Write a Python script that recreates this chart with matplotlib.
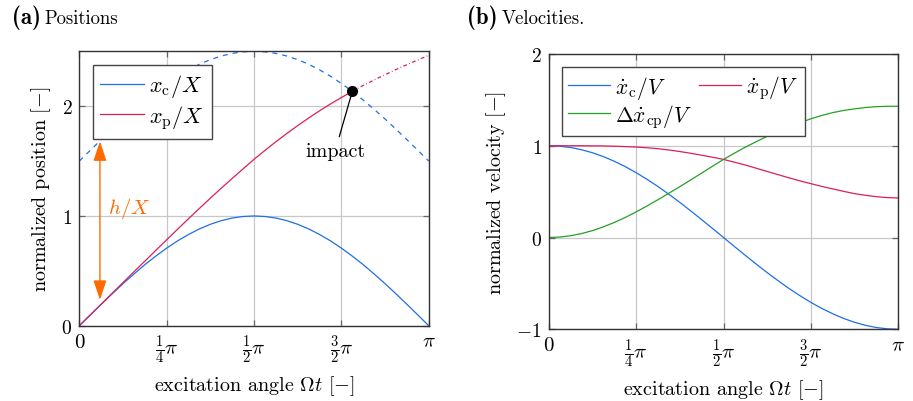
import numpy as np
import matplotlib
matplotlib.use('Agg')
import matplotlib.pyplot as plt

plt.rcParams['font.family'] = ['cmr10', 'DejaVu Serif']
plt.rcParams['mathtext.fontset'] = 'cm'
plt.rcParams['axes.formatter.use_mathtext'] = True

# excitation angle in units of pi (sample points where values were read)
t_pi = [k / 32 for k in range(33)]

# (a) positions
x_c = [0, 0.098, 0.195, 0.290, 0.383, 0.471, 0.556, 0.634, 0.707, 0.773, 0.831,
       0.882, 0.924, 0.957, 0.981, 0.995, 1.0, 0.995, 0.981, 0.957, 0.924, 0.882,
       0.831, 0.773, 0.707, 0.634, 0.556, 0.471, 0.383, 0.290, 0.195, 0.098, 0.0]
x_c_upper = [1.5, 1.598, 1.695, 1.790, 1.883, 1.971, 2.056, 2.134, 2.207, 2.273,
             2.331, 2.382, 2.424, 2.457, 2.481, 2.495, 2.5, 2.495, 2.481, 2.457,
             2.424, 2.382, 2.331, 2.273, 2.207, 2.134, 2.056, 1.971, 1.883, 1.790,
             1.695, 1.598, 1.5]
x_p = [0, 0.098, 0.196, 0.295, 0.393, 0.491, 0.588, 0.686, 0.783, 0.879, 0.975,
       1.069, 1.162, 1.253, 1.342, 1.429, 1.516, 1.597, 1.676, 1.751, 1.823, 1.892,
       1.958, 2.020, 2.079, 2.135, 2.189, 2.239, 2.287, 2.334, 2.378, 2.421, 2.464]
i_impact = 25  # sample index of the impact point

# (b) velocities
v_c = [1, 0.995, 0.981, 0.957, 0.924, 0.882, 0.831, 0.773, 0.707, 0.634, 0.556,
       0.471, 0.383, 0.290, 0.195, 0.098, 0, -0.098, -0.195, -0.290, -0.383, -0.471,
       -0.556, -0.634, -0.707, -0.773, -0.831, -0.882, -0.924, -0.957, -0.981, -0.995, -1]
v_p = [1.0, 1.0, 1.0, 1.0, 0.999, 0.998, 0.995, 0.991, 0.986, 0.978, 0.968, 0.954,
       0.937, 0.918, 0.897, 0.875, 0.851, 0.821, 0.79, 0.755, 0.72, 0.685, 0.65,
       0.617, 0.587, 0.557, 0.53, 0.503, 0.478, 0.46, 0.445, 0.435, 0.431]
dv_cp = [0, 0.005, 0.019, 0.043, 0.075, 0.116, 0.164, 0.218, 0.279, 0.344, 0.412,
         0.483, 0.554, 0.628, 0.702, 0.777, 0.851, 0.919, 0.985, 1.045, 1.103, 1.156,
         1.206, 1.251, 1.294, 1.330, 1.361, 1.385, 1.402, 1.417, 1.426, 1.430, 1.431]

blue = '#1f6fe5'
red = '#dc1f55'
green = '#25a025'
orange = '#ff6a00'

t = np.array(t_pi) * np.pi

fig = plt.figure(figsize=(9.13, 4.02), dpi=100)
ax1 = fig.add_axes([0.0869, 0.1873, 0.3827, 0.6826])
ax2 = fig.add_axes([0.601, 0.1784, 0.3829, 0.6848])

xticks = [0, np.pi / 4, np.pi / 2, 3 * np.pi / 4, np.pi]
xticklabels = [r'$0$', r'$\frac{1}{4}\pi$', r'$\frac{1}{2}\pi$', r'$\frac{3}{2}\pi$', r'$\pi$']
xlabel = r'excitation angle $\Omega t$ [$\mathrm{-}$]'

for ax in (ax1, ax2):
    ax.set_xlim(0, np.pi)
    ax.set_xticks(xticks)
    ax.set_xticklabels(xticklabels)
    ax.grid(True, color='#c8c8c8', linewidth=0.9)
    ax.set_axisbelow(True)
    ax.tick_params(direction='in', top=True, right=True, length=4, width=0.9,
                   color='#666666', labelsize=14, pad=5)
    ax.tick_params(axis='x', labelsize=15)
    for s in ax.spines.values():
        s.set_color('#333333')
        s.set_linewidth(1.0)
    ax.set_xlabel(xlabel, fontsize=14.5, labelpad=6)

# ---- (a) Positions
ax1.plot(t, x_c, color=blue, lw=0.9, label=r'$x_\mathrm{c}/X$')
ax1.plot(t, x_c_upper, color=blue, lw=0.9, dashes=(4, 4))
ax1.plot(t[:i_impact + 1], x_p[:i_impact + 1], color=red, lw=0.9, label=r'$x_\mathrm{p}/X$')
ax1.plot(t[i_impact:], x_p[i_impact:], color=red, lw=0.9, dashes=(3, 2, 0.6, 2))
ax1.plot(t[i_impact], x_p[i_impact], 'o', color='black', ms=7, zorder=5)
ax1.annotate('impact', xy=(t[i_impact], x_p[i_impact]), xytext=(0.732 * np.pi, 1.59),
             ha='center', va='center', fontsize=14.5,
             arrowprops=dict(arrowstyle='-', color='black', lw=0.9, shrinkA=2, shrinkB=0))
ax1.annotate('', xy=(0.059 * np.pi, 0.235), xytext=(0.059 * np.pi, 1.68),
             arrowprops=dict(arrowstyle='<|-|>,head_length=0.6,head_width=0.2',
                             color=orange, lw=1.0, mutation_scale=20, shrinkA=0, shrinkB=0))
ax1.text(0.143 * np.pi, 1.08, r'$h/X$', color=orange, fontsize=15, ha='center', va='center')
ax1.set_ylim(0, 2.5)
ax1.set_yticks([0, 1, 2])
ax1.set_yticklabels([r'$0$', r'$1$', r'$2$'])
ax1.set_ylabel('normalized position [$\\mathrm{-}$]', fontsize=14.5, labelpad=6)
ax1.legend(loc='upper left', fontsize=16, frameon=True, fancybox=False, framealpha=1,
           edgecolor='#444444', handlelength=1.95, handletextpad=0.25,
           borderaxespad=0.6, labelspacing=0.15, borderpad=0.35)

# ---- (b) Velocities
l1, = ax2.plot(t, v_c, color=blue, lw=0.9, label=r'$\dot{x}_\mathrm{c}/V$')
l2, = ax2.plot(t, v_p, color=red, lw=0.9, label=r'$\dot{x}_\mathrm{p}/V$')
l3, = ax2.plot(t, dv_cp, color=green, lw=0.9, label=r'$\mathit{\Delta}\dot{x}_\mathrm{cp}/V$')
ax2.set_ylim(-1, 2)
ax2.set_yticks([-1, 0, 1, 2])
ax2.set_yticklabels([r'$-1$', r'$0$', r'$1$', r'$2$'])
ax2.set_ylabel('normalized velocity [$\\mathrm{-}$]', fontsize=14.5, labelpad=6)
ax2.legend(handles=[l1, l3, l2], loc='upper left', ncol=2, fontsize=15.5, frameon=True,
           fancybox=False, framealpha=1, edgecolor='#444444', handlelength=1.95,
           handletextpad=0.25, borderaxespad=0.6, labelspacing=0.05, borderpad=0.3,
           columnspacing=0.3)

# panel titles
fig.text(0.013, 0.94, '(a)', fontsize=16.5, fontfamily='cmb10', va='baseline')
fig.text(0.049, 0.94, 'Positions', fontsize=13.5, va='baseline')
fig.text(0.512, 0.94, '(b)', fontsize=16.5, fontfamily='cmb10', va='baseline')
fig.text(0.549, 0.94, 'Velocities.', fontsize=13.5, va='baseline')

fig.savefig('out.png', dpi=100)
